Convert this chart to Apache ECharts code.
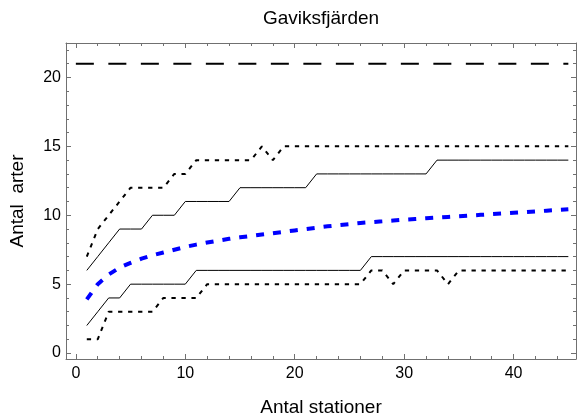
<!DOCTYPE html>
<html>
<head>
<meta charset="utf-8">
<script src="https://cdn.jsdelivr.net/npm/echarts@6/dist/echarts.min.js"></script>
<style>html,body{margin:0;padding:0;background:#fff}#c{width:581px;height:417px}</style>
</head>
<body>
<div id="c"></div>
<script>
const stations = [1,2,3,4,5,6,7,8,9,10,11,12,13,14,15,16,17,18,19,20,21,22,23,24,25,26,27,28,29,30,31,32,33,34,35,36,37,38,39,40,41,42,43,44,45];
const upperOuter = [7,9,10,11,12,12,12,12,13,13, 14,14,14,14,14,14,15,14,15,15, 15,15,15,15,15,15,15,15,15,15, 15,15,15,15,15,15,15,15,15,15, 15,15,15,15,15];
const upperInner = [6,7,8,9,9,9,10,10,10,11, 11,11,11,11,12,12,12,12,12,12, 12,13,13,13,13,13,13,13,13,13, 13,13,14,14,14,14,14,14,14,14, 14,14,14,14,14];
const meanSpecies = [3.9,5.0,5.7,6.2,6.55,6.85,7.1,7.3,7.5,7.7, 7.87,8.02,8.16,8.29,8.4,8.5,8.6,8.7,8.8,8.9, 9.0,9.1,9.2,9.28,9.36,9.44,9.5,9.56,9.62,9.68, 9.73,9.78,9.83,9.88,9.93,9.98,10.03,10.08,10.13,10.18, 10.23,10.28,10.33,10.38,10.43];
const lowerInner = [2,3,4,4,5,5,5,5,5,5, 6,6,6,6,6,6,6,6,6,6, 6,6,6,6,6,6,7,7,7,7, 7,7,7,7,7,7,7,7,7,7, 7,7,7,7,7];
const lowerOuter = [1,1,3,3,3,3,3,4,4,4, 4,5,5,5,5,5,5,5,5,5, 5,5,5,5,5,5,6,6,5,6, 6,6,6,5,6,6,6,6,6,6, 6,6,6,6,6];
const totalX = [0, 45];
const totalY = [21, 21];
const xMajorTicks = [0,10,20,30,40];
const xMinorTicks = [0,2,4,6,8,10,12,14,16,18,20,22,24,26,28,30,32,34,36,38,40,42,44];
const yMajorTicks = [0,5,10,15,20];
const yMinorTicks = [0,1,2,3,4,5,6,7,8,9,10,11,12,13,14,15,16,17,18,19,20,21,22];
const titleText = 'Gaviksfjärden';
const xName = 'Antal stationer';
const yName = 'Antal  arter';

const FONT = '"Liberation Sans", Arial, sans-serif';
const AX = '#707070';
const XMIN = -0.9, XMAX = 45.7, YMIN = -0.43, YMAX = 22.5;

function pairs(xs, ys){ return xs.map((x,i)=>[x, ys[i]]); }

function xAx(pos, ticks, len, labels, line){
  return {type:'value', position:pos, min:XMIN, max:XMAX, splitLine:{show:false},
    axisLine:{show:line, onZero:false, lineStyle:{color:AX, width:1}},
    axisTick:{show:true, inside:true, length:len, customValues:ticks, lineStyle:{color:AX, width:1}},
    axisLabel:{show:labels, customValues:ticks, color:'#000', fontSize:16, fontFamily:FONT, margin:7}};
}
function yAx(pos, ticks, len, labels, line){
  return {type:'value', position:pos, min:YMIN, max:YMAX, splitLine:{show:false},
    axisLine:{show:line, onZero:false, lineStyle:{color:AX, width:1}},
    axisTick:{show:true, inside:true, length:len, customValues:ticks, lineStyle:{color:AX, width:1}},
    axisLabel:{show:labels, customValues:ticks, color:'#000', fontSize:16, fontFamily:FONT, margin:5}};
}

function lineSeries(name, ys, style){
  return {name, type:'line', xAxisIndex:0, yAxisIndex:0, showSymbol:false, symbol:'none',
    data:pairs(stations, ys), lineStyle:style, z:3, silent:true};
}

const chart = echarts.init(document.getElementById('c'), null, {renderer:'canvas'});
chart.setOption({
  animation:false,
  backgroundColor:'#fff',
  grid:{left:66, right:5, top:43, bottom:58, containLabel:false},
  xAxis:[
    xAx('bottom', xMajorTicks, 5, true, true),
    xAx('bottom', xMinorTicks, 3, false, false),
    xAx('top', xMajorTicks, 5, false, true),
    xAx('top', xMinorTicks, 3, false, false)
  ],
  yAxis:[
    yAx('left', yMajorTicks, 5, true, true),
    yAx('left', yMinorTicks, 3, false, false),
    yAx('right', yMajorTicks, 5, false, true),
    yAx('right', yMinorTicks, 3, false, false)
  ],
  series:[
    {name:'total', type:'line', xAxisIndex:0, yAxisIndex:0, showSymbol:false, symbol:'none',
      data:pairs(totalX, totalY), lineStyle:{color:'#000', width:2, type:[18,14.5]}, silent:true},
    lineSeries('upperOuter', upperOuter, {color:'#000', width:2, type:[4.3,5.7]}),
    lineSeries('upperInner', upperInner, {color:'#000', width:1, type:'solid'}),
    lineSeries('mean', meanSpecies, {color:'#0000ff', width:4, type:[8,9]}),
    lineSeries('lowerInner', lowerInner, {color:'#000', width:1, type:'solid'}),
    lineSeries('lowerOuter', lowerOuter, {color:'#000', width:2, type:[4.3,5.7]})
  ],
  graphic:[
    {type:'text', x:321, y:19, style:{text:titleText, font:'19px '+FONT, fill:'#000', textAlign:'center', textVerticalAlign:'middle'}},
    {type:'text', x:321, y:408, style:{text:xName, font:'19px '+FONT, fill:'#000', textAlign:'center', textVerticalAlign:'middle'}},
    {type:'text', x:18, y:201, rotation:Math.PI/2, style:{text:yName, font:'19px '+FONT, fill:'#000', textAlign:'center', textVerticalAlign:'middle'}}
  ]
});
</script>
</body>
</html>
